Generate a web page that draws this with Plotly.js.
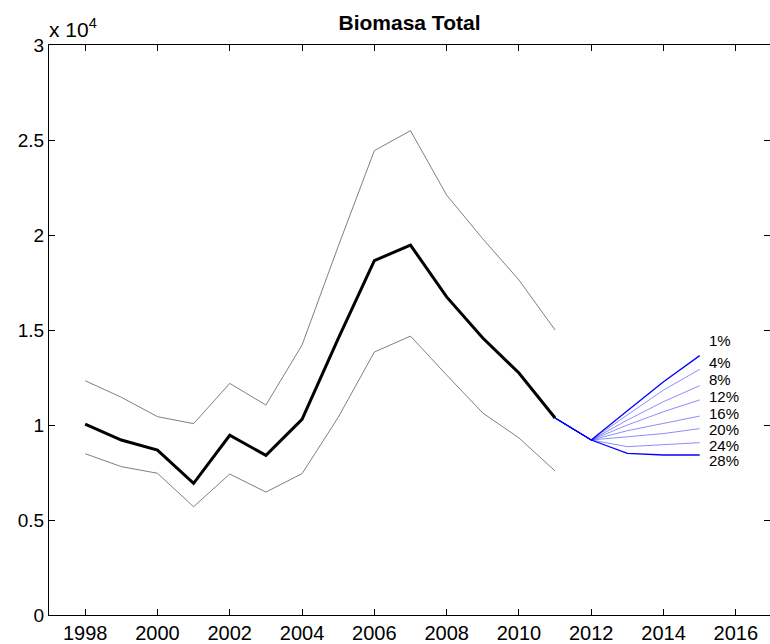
<!DOCTYPE html>
<html>
<head>
<meta charset="utf-8">
<script src="https://cdn.plot.ly/plotly-3.0.1.min.js"></script>
<style>html,body{margin:0;padding:0;overflow:hidden;background:#fff;}</style>
</head>
<body>
<div id="chart" style="width:770px;height:644px;"></div>
<script>
// Historical years and estimates
const years = [1998,1999,2000,2001,2002,2003,2004,2005,2006,2007,2008,2009,2010,2011];
const biomass = [10050,9210,8680,6930,9460,8400,10300,14550,18650,19470,16740,14580,12740,10370];
const upper   = [12330,11460,10440,10070,12190,11050,14210,19400,24440,25490,22100,19800,17630,15000];
const lower   = [8490,7810,7460,5700,7420,6470,7440,10400,13840,14680,12630,10630,9320,7580];

// Projections
const projYears = [2011,2012,2013,2014,2015];
const projLabels = ['1%','4%','8%','12%','16%','20%','24%','28%'];
const proj1  = [10370,9210,10750,12280,13650];
const proj4  = [10370,9210,10530,11840,12930];
const proj8  = [10370,9210,10260,11230,12070];
const proj12 = [10370,9210,10000,10700,11320];
const proj16 = [10370,9210,9700,10090,10470];
const proj20 = [10370,9210,9380,9550,9810];
const proj24 = [10370,9210,8860,8950,9070];
const proj28 = [10370,9210,8510,8420,8420];
const projSeries = [proj1,proj4,proj8,proj12,proj16,proj20,proj24,proj28];
const labelX = 2015.22;
const labelY = [14470,13280,12370,11490,10580,9740,8910,8120];

// Axis ticks
const xTicks = [1998,2000,2002,2004,2006,2008,2010,2012,2014,2016];
const yTicks = [0,5000,10000,15000,20000,25000,30000];
const yTickText = ['0','0.5','1','1.5','2','2.5','3'];

const FONT = 'Liberation Sans, Arial, sans-serif';

const traces = [];
traces.push({x: years, y: upper, mode: 'lines', line: {color: '#808080', width: 1}, hoverinfo: 'skip'});
traces.push({x: years, y: lower, mode: 'lines', line: {color: '#808080', width: 1}, hoverinfo: 'skip'});
traces.push({x: years, y: biomass, mode: 'lines', line: {color: '#000000', width: 3}, hoverinfo: 'skip'});
projSeries.forEach((s, i) => {
  const strong = (i === 0 || i === projSeries.length - 1);
  traces.push({
    x: projYears, y: s, mode: 'lines',
    line: {color: strong ? '#0000ff' : 'rgba(0,0,255,0.45)', width: strong ? 1.3 : 1},
    hoverinfo: 'skip'
  });
});

const annotations = projLabels.map((t, i) => ({
  x: labelX, y: labelY[i], xref: 'x', yref: 'y', text: t, showarrow: false,
  xanchor: 'left', yanchor: 'middle', borderpad: 0,
  font: {family: FONT, size: 15, color: '#000'}
}));
annotations.push({
  xref: 'paper', yref: 'paper', x: 0, y: 1, xanchor: 'left', yanchor: 'bottom',
  text: 'x 10<sup>4</sup>', showarrow: false, yshift: 2, xshift: -2,
  font: {family: FONT, size: 21, color: '#000'}
});

const layout = {
  width: 770, height: 644,
  margin: {l: 49, r: 0, t: 45, b: 29, pad: 0},
  paper_bgcolor: '#fff', plot_bgcolor: '#fff',
  showlegend: false,
  title: {text: '<b>Biomasa Total</b>', x: 0.5318, xanchor: 'center', y: 0.965, yanchor: 'middle', yref: 'container',
          font: {family: FONT, size: 21, color: '#000'}},
  xaxis: {
    range: [1997, 2016.945], tickvals: xTicks, ticktext: xTicks.map(String),
    showline: true, linecolor: '#000', linewidth: 1, mirror: 'ticks',
    ticks: 'inside', ticklen: 6, tickcolor: '#000', showgrid: false, zeroline: false,
    tickfont: {family: FONT, size: 20, color: '#000'}
  },
  yaxis: {
    range: [0, 30000], tickvals: yTicks, ticktext: yTickText,
    showline: true, linecolor: '#000', linewidth: 1, mirror: 'ticks',
    ticks: 'inside', ticklen: 6, tickcolor: '#000', showgrid: false, zeroline: false,
    ticklabelstandoff: 0,
    tickfont: {family: FONT, size: 19, color: '#000'}
  },
  annotations: annotations
};

Plotly.newPlot('chart', traces, layout, {displayModeBar: false, staticPlot: true});
</script>
</body>
</html>
